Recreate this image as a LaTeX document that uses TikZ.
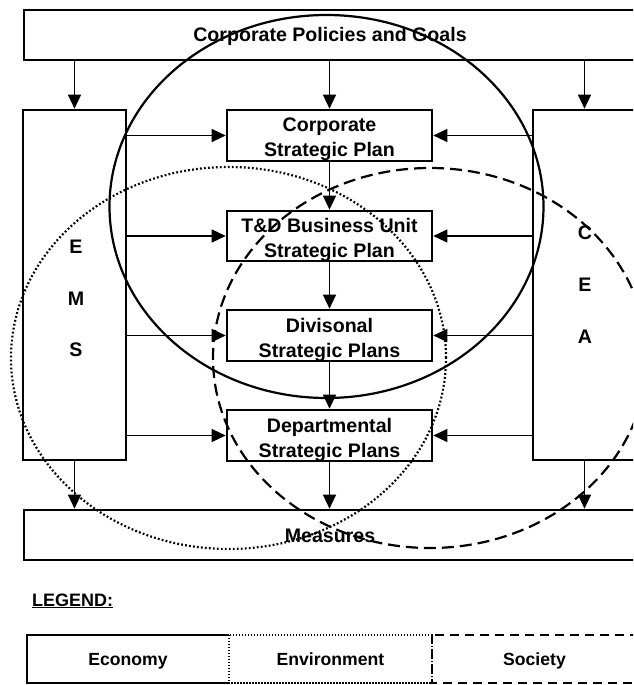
\documentclass[tikz,border=0pt]{standalone}
\usepackage{fontspec}
\setmainfont{Liberation Sans}
\usetikzlibrary{arrows.meta}
\begin{document}
\begin{tikzpicture}[x=1pt,y=-1pt,
  box/.style={draw, line width=2.6pt, inner sep=0pt},
  mainfont/.style={font=\fontsize{19.6}{25}\selectfont\bfseries},
  txt/.style={mainfont, align=center, inner sep=0pt},
  letter/.style={mainfont, inner sep=0pt},
  flow/.style={line width=1.2pt, -{Triangle[length=14pt,width=13pt]}},
  economy/.style={line width=2.2pt},
  environment/.style={line width=2.2pt, dash pattern=on 1.8pt off 2.2pt},
  society/.style={line width=2.2pt, dash pattern=on 12pt off 6pt},
  legtxt/.style={font=\fontsize{17.6}{20}\selectfont\bfseries, inner sep=0pt,
    text height=12.6pt, text depth=-3pt, minimum height=48pt}]
\useasboundingbox (0,0) rectangle (633,685);
\clip (0,0) rectangle (633,685);

% frame boxes
\node[box, mainfont, minimum width=612pt, minimum height=50pt,
      text height=14pt, text depth=0pt] (policies) at (330,35) {Corporate Policies and Goals};
\node[box, minimum width=103pt, minimum height=350pt] (ems) at (74.5,285) {};
\node[box, minimum width=103pt, minimum height=350pt] (cea) at (584.5,285) {};
\node[box, mainfont, minimum width=612pt, minimum height=50pt,
      text height=14pt, text depth=0pt] (meas) at (330,535) {Measures};

% planning chain
\node[box, minimum width=205pt, minimum height=51pt] (corp) at (329.5,135.5) {};
\node[box, minimum width=205pt, minimum height=50pt] (td)   at (329.5,236) {};
\node[box, minimum width=205pt, minimum height=51pt] (div)  at (329.5,335.5) {};
\node[box, minimum width=205pt, minimum height=51pt] (dept) at (329.5,435.5) {};
\node[txt] (corp-t) at (329.5,139.5) {Corporate\\Strategic Plan};
\node[txt] (td-t)   at (329.5,240)   {T\&D Business Unit\\Strategic Plan};
\node[txt] (div-t)  at (329.5,339.5) {Divisonal\\Strategic Plans};
\node[txt] (dept-t) at (329.5,439.5) {Departmental\\Strategic Plans};

% side letters
\node[letter] (ems-e) at (76,247) {E};
\node[letter] (ems-m) at (76,299) {M};
\node[letter] (ems-s) at (76,350) {S};
\node[letter] (cea-c) at (585,233) {C};
\node[letter] (cea-e) at (585,285) {E};
\node[letter] (cea-a) at (585,337) {A};

% connectors
\draw[flow] (policies.south -| ems) -- (ems.north);
\draw[flow] (policies.south -| corp) -- (corp.north);
\draw[flow] (policies.south -| cea) -- (cea.north);
\foreach \b in {corp,td,div,dept}{
  \draw[flow] (ems.east |- \b.west) -- (\b.west);
  \draw[flow] (cea.west |- \b.east) -- (\b.east);
}
\draw[flow] (corp.south) -- (td.north);
\draw[flow] (td.south) -- (div.north);
\draw[flow] (div.south) -- (dept.north);
\draw[flow] (dept.south) -- (meas.north -| dept);
\draw[flow] (ems.south) -- (meas.north -| ems);
\draw[flow] (cea.south) -- (meas.north -| cea);

% sustainability dimensions
\draw[economy] (326.5,206.5) ellipse [x radius=217pt, y radius=191.5pt];
\draw[environment] (228.5,358) ellipse [x radius=217.5pt, y radius=191pt];
\draw[society] (430,358) ellipse [x radius=217pt, y radius=190pt];

% legend
\node[anchor=base west, font=\fontsize{18}{20}\selectfont\bfseries, inner sep=0pt]
  (legend-title) at (32,606) {\underline{LEGEND:}};
\node[legtxt, minimum width=202pt] (leg-eco) at (128,659) {Economy};
\node[legtxt, minimum width=203pt] (leg-env) at (330.5,659) {Environment};
\node[legtxt, minimum width=205pt] (leg-soc) at (534.5,659) {Society};
\draw[line width=2.2pt] (leg-eco.north east) -- (leg-eco.north west)
  -- (leg-eco.south west) -- (leg-eco.south east);
\draw[line width=1.8pt, dash pattern=on 1.5pt off 1.5pt]
  (leg-env.north west) rectangle (leg-env.south east);
\draw[line width=2.2pt, dash pattern=on 9pt off 6pt]
  (leg-soc.north west) rectangle (leg-soc.south east);
\end{tikzpicture}
\end{document}
